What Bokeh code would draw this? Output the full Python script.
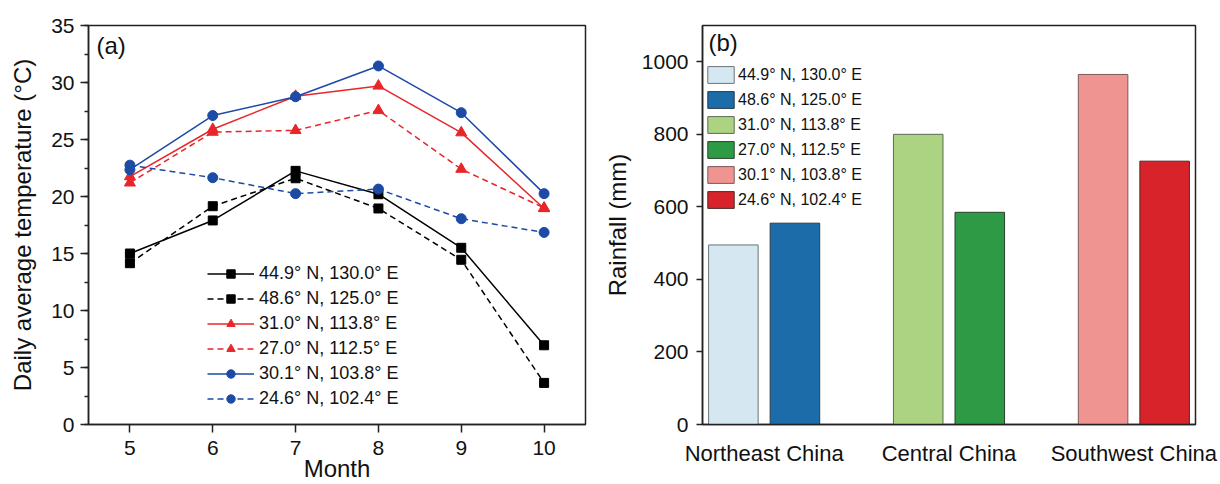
from bokeh.plotting import figure
from bokeh.models import (Range1d, FactorRange, SingleIntervalTicker, FixedTicker,
                          Legend, LegendItem, Label, ColumnDataSource)
from bokeh.transform import dodge
from bokeh.layouts import row
from bokeh.embed import file_html
from bokeh.resources import INLINE

FONT = "Liberation Sans"

# ---------------- data ----------------
months = [5, 6, 7, 8, 9, 10]
stations = ["44.9° N, 130.0° E", "48.6° N, 125.0° E", "31.0° N, 113.8° E",
            "27.0° N, 112.5° E", "30.1° N, 103.8° E", "24.6° N, 102.4° E"]
temp_449 = [15.0, 17.9, 22.25, 20.2, 15.5, 6.95]
temp_486 = [14.15, 19.15, 21.6, 18.95, 14.45, 3.65]
temp_310 = [21.75, 25.9, 28.8, 29.7, 25.6, 18.95]
temp_270 = [21.2, 25.65, 25.8, 27.55, 22.4, 19.0]
temp_301 = [22.35, 27.1, 28.75, 31.45, 27.35, 20.25]
temp_246 = [22.75, 21.65, 20.25, 20.65, 18.05, 16.85]

regions = ["Northeast China", "Central China", "Southwest China"]
bar_region = ["Northeast China", "Northeast China", "Central China",
              "Central China", "Southwest China", "Southwest China"]
rainfall = [495, 555, 800, 585, 965, 726]

line_colors = ["#000000", "#000000", "#e8262a", "#e8262a", "#1c4aa5", "#1c4aa5"]
line_dashes = ["solid", "6 4", "solid", "6 4", "solid", "6 4"]
markers = ["square", "square", "triangle", "triangle", "circle", "circle"]
marker_sizes = [9, 9, 11, 11, 10, 10]
bar_colors = ["#d5e8f1", "#1b6ca9", "#acd381", "#2f9a45", "#f09492", "#d72329"]
bar_lines = ["#6a7377", "#2a3a48", "#5d6a55", "#27402c", "#7a5a5a", "#4a2a2a"]


def style_axes(p):
    p.grid.visible = False
    p.outline_line_color = "#222222"
    p.outline_line_width = 1.5
    for ax in p.axis:
        ax.axis_line_width = 1.5
        ax.axis_line_color = "#222222"
        ax.major_tick_line_width = 1.5
        ax.minor_tick_line_width = 1.5
        ax.major_tick_line_color = "#222222"
        ax.minor_tick_line_color = "#222222"
        ax.major_tick_in = 0
        ax.minor_tick_in = 0
        ax.major_label_text_font = FONT
        ax.major_label_text_font_size = "21px"
        ax.major_label_text_color = "#111111"
        ax.axis_label_text_font = FONT
        ax.axis_label_text_font_size = "24px"
        ax.axis_label_text_font_style = "normal"
        ax.axis_label_text_color = "#111111"


# ---------------- panel (a) ----------------
p1 = figure(width=600, height=484, title=None, output_backend="svg", toolbar_location=None,
            x_range=Range1d(4.5, 10.5), y_range=Range1d(0, 35),
            min_border_left=88, min_border_right=15, min_border_top=25, min_border_bottom=59)
style_axes(p1)
p1.xaxis.ticker = FixedTicker(ticks=months)
p1.xaxis.major_tick_out = 8
p1.xaxis.minor_tick_out = 0
p1.xaxis.major_label_standoff = 8
p1.xaxis.axis_label = "Month"
p1.xaxis.axis_label_standoff = -3
p1.yaxis.ticker = SingleIntervalTicker(interval=5, num_minor_ticks=2)
p1.yaxis.major_tick_out = 8
p1.yaxis.minor_tick_out = 4
p1.yaxis.major_label_standoff = 6
p1.yaxis.axis_label = "Daily average temperature (°C)"
p1.yaxis.axis_label_standoff = 12

series = [temp_449, temp_486, temp_310, temp_270, temp_301, temp_246]
items = []
for i, vals in enumerate(series):
    src = ColumnDataSource(dict(month=months, temp=vals))
    lr = p1.line("month", "temp", source=src, line_color=line_colors[i],
                 line_dash=line_dashes[i], line_width=1.5)
    sr = p1.scatter("month", "temp", source=src, marker=markers[i], size=marker_sizes[i],
                    fill_color=line_colors[i], line_color=line_colors[i])
    items.append(LegendItem(label=stations[i], renderers=[lr, sr]))

leg1 = Legend(items=items, location=(119, 15), padding=0, margin=0, spacing=4,
              glyph_width=47, glyph_height=21, label_height=21, label_standoff=5,
              label_text_font=FONT, label_text_font_size="18px", label_text_color="#111111",
              border_line_alpha=0, background_fill_alpha=0)
p1.add_layout(leg1)
p1.add_layout(Label(x=8, y=393, x_units="screen", y_units="screen", text="(a)",
                    text_font=FONT, text_font_size="24px", text_baseline="top",
                    text_color="#111111"))

# ---------------- panel (b) ----------------
p2 = figure(width=620, height=484, title=None, output_backend="svg", toolbar_location=None,
            x_range=FactorRange(factors=regions, range_padding=-0.111),
            y_range=Range1d(0, 1100),
            min_border_left=98, min_border_right=25, min_border_top=24, min_border_bottom=60)
style_axes(p2)
p2.xaxis.major_tick_out = 0
p2.xaxis.minor_tick_out = 0
p2.xaxis.major_label_standoff = 16
p2.xaxis.major_label_text_font_size = "22px"
p2.yaxis.ticker = SingleIntervalTicker(interval=200, num_minor_ticks=0)
p2.yaxis.major_tick_out = 6
p2.yaxis.minor_tick_out = 0
p2.yaxis.major_label_standoff = 8
p2.yaxis.axis_label = "Rainfall (mm)"
p2.yaxis.axis_label_standoff = 8

bar_w = 0.268
bar_off = 0.1665
items2 = []
seen = {}
for i, st in enumerate(stations):
    reg = bar_region[i]
    k = seen.get(reg, 0)
    seen[reg] = k + 1
    off = -bar_off if k == 0 else bar_off
    src = ColumnDataSource(dict(region=[reg], rain=[rainfall[i]]))
    r = p2.vbar(x=dodge("region", off, range=p2.x_range), top="rain", width=bar_w,
                source=src, fill_color=bar_colors[i], line_color=bar_lines[i], line_width=1)
    items2.append(LegendItem(label=st, renderers=[r]))

leg2 = Legend(items=items2, location=(2, 214), padding=0, margin=0, spacing=4,
              glyph_width=33, glyph_height=21, label_height=21, label_standoff=1,
              label_text_font=FONT, label_text_font_size="16px", label_text_color="#111111",
              border_line_alpha=0, background_fill_alpha=0)
p2.add_layout(leg2)
p2.add_layout(Label(x=6, y=396, x_units="screen", y_units="screen", text="(b)",
                    text_font=FONT, text_font_size="24px", text_baseline="top",
                    text_color="#111111"))

layout = row(p1, p2)
open("out.html", "w").write(file_html(layout, INLINE))
